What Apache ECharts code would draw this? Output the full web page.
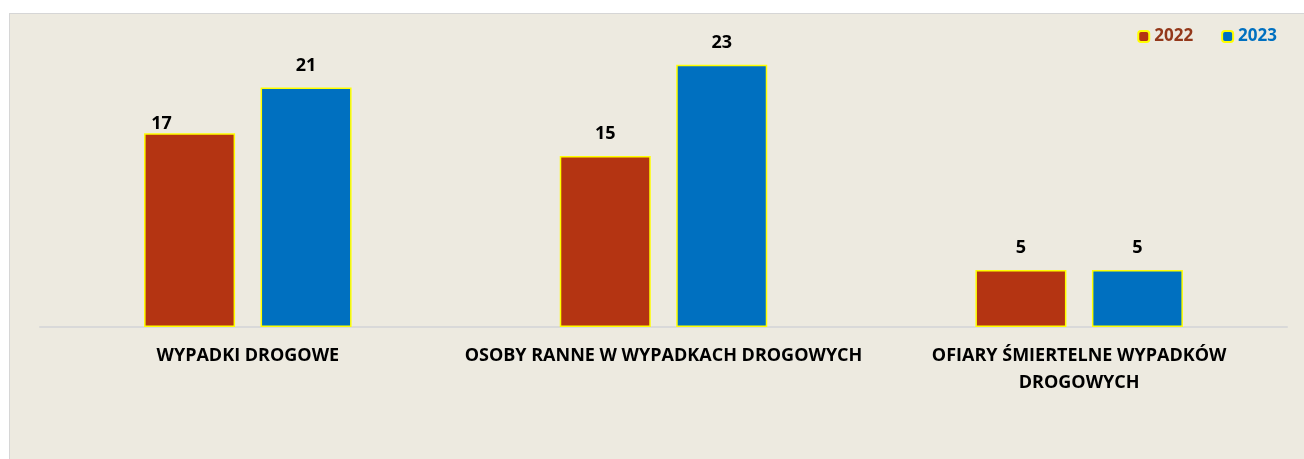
<!DOCTYPE html>
<html>
<head>
<meta charset="utf-8">
<script src="https://cdn.jsdelivr.net/npm/echarts@6/dist/echarts.min.js"></script>
<style>
  html, body { margin: 0; padding: 0; background: #fff; }
  #chart {
    position: absolute;
    left: 9px;
    top: 13px;
    width: 1294px;
    height: 445px;
    background: #EDEAE0;
    border-left: 1px solid #D6D6D6;
    border-top: 1px solid #D6D6D6;
  }
</style>
</head>
<body>
<div id="chart"></div>
<script>
  // dane
  const categories = ['WYPADKI DROGOWE', 'OSOBY RANNE W WYPADKACH DROGOWYCH', 'OFIARY ŚMIERTELNE WYPADKÓW\nDROGOWYCH'];
  const years = ['2022', '2023'];
  const values2022 = [17, 15, 5];
  const values2023 = [21, 23, 5];

  const chart = echarts.init(document.getElementById('chart'));

  const labelStyle = {
    show: true,
    position: 'top',
    distance: 13,
    color: '#000',
    fontFamily: 'Open Sans',
    fontWeight: 'bold',
    fontSize: 18
  };

  const option = {
    backgroundColor: 'transparent',
    animation: false,
    legend: {
      right: 22,
      top: 9,
      itemWidth: 11,
      itemHeight: 11,
      itemGap: 28,
      textStyle: { fontFamily: 'Open Sans', fontWeight: 'bold', fontSize: 17 },
      data: [
        { name: years[0], textStyle: { color: '#93381A' } },
        { name: years[1], textStyle: { color: '#0070C0' } }
      ]
    },
    grid: { left: 30, right: 17, top: 28, bottom: 132 },
    xAxis: {
      type: 'category',
      data: categories,
      axisLine: { lineStyle: { color: '#D9D9D9', width: 2 } },
      axisTick: { show: false },
      axisLabel: {
        color: '#000',
        fontFamily: 'Open Sans',
        fontWeight: 'bold',
        fontSize: 18,
        lineHeight: 27,
        margin: 15,
        interval: 0
      }
    },
    yAxis: {
      type: 'value',
      min: 0,
      max: 25,
      show: false
    },
    series: [
      {
        name: years[0],
        type: 'bar',
        barWidth: 91,
        barGap: '28%',
        itemStyle: { color: '#B43412', borderColor: '#FFFF00', borderWidth: 1.5 },
        label: labelStyle,
        // etykieta "17" przesunieta w lewo jak w oryginale
        data: values2022.map((v, i) => i === 0 ? { value: v, label: { offset: [-28, 13] } } : v)
      },
      {
        name: years[1],
        type: 'bar',
        barWidth: 91,
        itemStyle: { color: '#0070C0', borderColor: '#FFFF00', borderWidth: 1.5 },
        label: labelStyle,
        data: values2023
      }
    ]
  };

  chart.setOption(option);
</script>
</body>
</html>
